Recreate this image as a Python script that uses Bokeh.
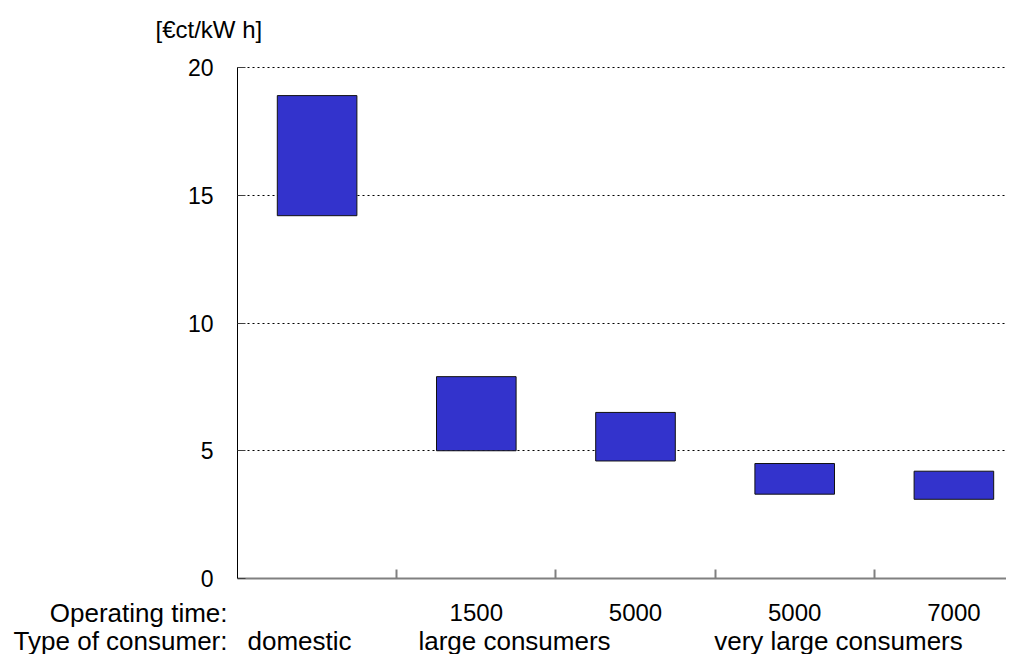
from bokeh.plotting import figure
from bokeh.models import ColumnDataSource, FixedTicker, Range1d, Grid
from bokeh.core.properties import value
from bokeh.embed import file_html
from bokeh.resources import INLINE

# ---- data ----
categories = ["domestic", "large 1500", "large 5000", "very large 5000", "very large 7000"]
operating_time = ["", "1500", "5000", "5000", "7000"]
price_low = [14.2, 5.0, 4.6, 3.3, 3.1]
price_high = [18.9, 7.9, 6.5, 4.5, 4.2]
consumer_groups = ["domestic", "large consumers", "very large consumers"]
row_titles = ["Operating time:", "Type of consumer:"]
y_ticks = [0, 5, 10, 15, 20]
unit_label = "[€ct/kW h]"

# ---- layout (pixel geometry) ----
W, H = 1006, 654
LEFT = 237          # x pixel of the y axis
CAT_PX = 159.2      # width of one category in pixels
TOP_PX, ZERO_PX = 67, 578   # pixels of y=20 and y=0
PPU = (ZERO_PX - TOP_PX) / 20.0
X_START = -LEFT / CAT_PX
X_END = (W - LEFT) / CAT_PX
Y_TOP = 20 + TOP_PX / PPU
Y_BOT = -(H - ZERO_PX) / PPU

def ypx(px):
    return (ZERO_PX - px) / PPU

def xpx(px):
    return (px - LEFT) / CAT_PX

group_centers = [xpx(299), xpx(514), xpx(838)]
FONT = "Liberation Sans"

centers = [i + 0.5 for i in range(len(categories))]
src = ColumnDataSource(dict(x=centers, low=price_low, high=price_high))

p = figure(width=W, height=H, output_backend="svg", toolbar_location=None,
           x_range=Range1d(X_START, X_END), y_range=Range1d(Y_BOT, Y_TOP),
           min_border=0)
p.outline_line_color = None
p.background_fill_color = "white"
p.border_fill_color = "white"

# grid
p.xgrid.grid_line_color = None
yg = p.ygrid[0]
yg.ticker = FixedTicker(ticks=y_ticks[1:])
yg.grid_line_color = "black"
yg.grid_line_dash = "2 3"
yg.grid_line_width = 1
if "cross_bounds" in Grid.properties():
    yg.cross_bounds = (0, X_END)

p.vbar(x="x", width=0.5, bottom="low", top="high", source=src,
       fill_color="#3333CC", line_color="#111111", line_width=1)

# y axis (fixed at x=0)
yax = p.yaxis[0]
yax.fixed_location = 0
yax.bounds = (0, 20)
yax.ticker = FixedTicker(ticks=y_ticks)
yax.axis_line_color = "black"
yax.axis_line_width = 1
yax.major_tick_in = 8
yax.major_tick_out = 0
yax.major_tick_line_color = "#404040"
yax.minor_tick_line_color = None
yax.major_label_text_font = FONT
yax.major_label_text_font_size = "23px"
yax.major_label_text_color = "black"
yax.major_label_standoff = 24

# x axis (fixed at y=0), ticks at category boundaries, no labels
xax = p.xaxis[0]
xax.fixed_location = 0
xax.bounds = (0, X_END)
xax.ticker = FixedTicker(ticks=[1, 2, 3, 4])
xax.axis_line_color = "#808080"
xax.axis_line_width = 2
xax.major_tick_in = 9
xax.major_tick_out = 0
xax.major_tick_line_color = "#808080"
xax.major_tick_line_width = 2
xax.minor_tick_line_color = None
xax.major_label_text_color = None

# unit label
p.text(x=[xpx(155)], y=[ypx(29)], text=[unit_label], text_align="left",
       text_baseline="middle", text_font=value(FONT), text_font_size="24px",
       text_color="black")

# bottom label rows
ROW1 = ypx(612)
ROW2 = ypx(640)
ot_x = [c for c, t in zip(centers, operating_time) if t]
ot_t = [t for t in operating_time if t]
p.text(x=ot_x, y=[ROW1] * len(ot_x), text=ot_t, text_align="center",
       text_baseline="middle", text_font=value(FONT), text_font_size="24px",
       text_color="black")
p.text(x=group_centers, y=[ROW2] * len(group_centers), text=consumer_groups,
       text_align="center", text_baseline="middle", text_font=value(FONT),
       text_font_size="26px", text_color="black")
p.text(x=[xpx(227)] * 2, y=[ROW1, ROW2], text=row_titles, text_align="right",
       text_baseline="middle", text_font=value(FONT), text_font_size="26px",
       text_color="black")

open("out.html", "w").write(file_html(p, INLINE))
